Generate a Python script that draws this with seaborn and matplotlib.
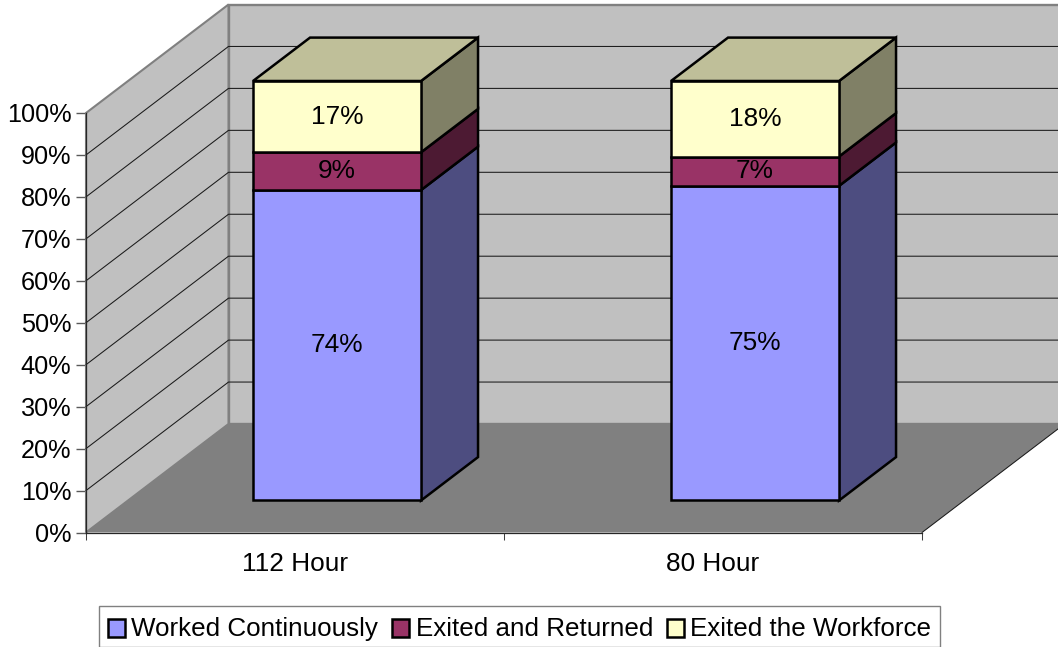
import matplotlib
matplotlib.use("Agg")
import matplotlib.pyplot as plt
from matplotlib.patches import Polygon
from matplotlib.transforms import Affine2D
import pandas as pd
import seaborn as sns

# Chart values
cohorts = ["112 Hour", "80 Hour"]
worked_continuously = [74, 75]
exited_and_returned = [9, 7]
exited_workforce = [17, 18]
series_names = ["Worked Continuously", "Exited and Returned", "Exited the Workforce"]
series_values = [worked_continuously, exited_and_returned, exited_workforce]

# Face colours for each series: front, side, top
front_colors = ["#9999FF", "#993366", "#FFFFCC"]
side_colors = ["#4D4D80", "#4D1A33", "#808066"]
top_color = "#BFBF99"

W, H = 1058, 647
sns.set_theme(style="white")
plt.rcParams["font.family"] = ["Liberation Sans", "DejaVu Sans"]
plt.rcParams["text.color"] = "black"
FONT = 18.9
TICK_FONT = 18.2
LEGEND_FONT = 18.7

fig = plt.figure(figsize=(W / 100, H / 100), dpi=100, facecolor="white")
ax = fig.add_axes([86 / W, 1 - 532.5 / H, (922 - 86) / W, (532.5 - 113) / H])
ax.patch.set_alpha(0)

# Oblique projection of the chart box: depth 0 is the front plane, 1 the back wall
DX = 142.5 / 418
DY = 108.5 / 4.195


def project(x, y, d):
    return x + d * DX, y + d * DY


XL, XR = -0.5, 1.5
BAR_WIDTH = 168 / 418
D_FRONT, D_BACK = 0.295, 0.695
EDGE_LW = 1.8


def add_face(points, color, z, edge="none", lw=0):
    ax.add_patch(Polygon(points, closed=True, facecolor=color, edgecolor=edge,
                         linewidth=lw, zorder=z, clip_on=False, joinstyle="miter"))


# Walls and floor
add_face([project(XL, 0, 1), project(XR, 0, 1), project(XR, 100, 1), project(XL, 100, 1)],
         "#C0C0C0", 1, "#808080", 1.7)
add_face([project(XL, 0, 0), project(XL, 0, 1), project(XL, 100, 1), project(XL, 100, 0)],
         "#C0C0C0", 1, "#808080", 1.5)
add_face([project(XL, 0, 0), project(XR, 0, 0), project(XR, 0, 1), project(XL, 0, 1)],
         "#808080", 1.5)

# Gridlines along the left wall and back wall
for level in range(10, 100, 10):
    xs, ys = zip(project(XL, level, 0), project(XL, level, 1), project(XR, level, 1))
    ax.plot(xs, ys, color="#1A1A1A", lw=0.75, zorder=2, clip_on=False)
ax.plot(*zip(project(XR, 0, 0), project(XR, 0, 1)), color="#1A1A1A", lw=0.75, zorder=2,
        clip_on=False)

# Stacked bars: the front faces come from seaborn, shifted into the box depth
table = pd.DataFrame({"cohort": cohorts})
shift = Affine2D().translate(*[D_FRONT * DX, D_FRONT * DY])
bottoms = [0, 0]
for name, values, front, side in zip(series_names, series_values, front_colors, side_colors):
    table["value"] = values
    sns.barplot(data=table, x="cohort", y="value", bottom=bottoms, width=BAR_WIDTH, ax=ax,
                color=front, saturation=1, edgecolor="black", linewidth=EDGE_LW,
                label=name, zorder=4)
    for patch, cx, base, val in zip(ax.containers[-1], range(2), bottoms, values):
        patch.set_transform(shift + ax.transData)
        patch.set_clip_on(False)
        patch.set_joinstyle("miter")
        x1 = cx + BAR_WIDTH / 2
        add_face([project(x1, base, D_FRONT), project(x1, base + val, D_FRONT),
                  project(x1, base + val, D_BACK), project(x1, base, D_BACK)],
                 side, 3, "black", EDGE_LW)
        ax.text(cx, base + val / 2, f"{val}%", transform=shift + ax.transData, ha="center",
                va="center", fontsize=FONT, color="black", zorder=6)
    bottoms = [b + v for b, v in zip(bottoms, values)]

# Bar tops
for cx, total in zip(range(2), bottoms):
    x0, x1 = cx - BAR_WIDTH / 2, cx + BAR_WIDTH / 2
    add_face([project(x0, total, D_FRONT), project(x1, total, D_FRONT),
              project(x1, total, D_BACK), project(x0, total, D_BACK)],
             top_color, 5, "black", EDGE_LW)

# Axes
ax.set_xlim(XL, XR)
ax.set_ylim(0, 100)
ax.set_xlabel("")
ax.set_ylabel("")
ax.set_yticks(range(0, 101, 10), [f"{v}%" for v in range(0, 101, 10)])
ax.set_xticks([-0.5, 0.5, 1.5], ["", "", ""])
ax.set_xticks([0, 1], cohorts, minor=True)
ax.tick_params(axis="y", which="major", left=True, length=7.5, width=1, color="#595959",
               labelsize=TICK_FONT, labelcolor="black", pad=3)
ax.tick_params(axis="x", which="major", bottom=True, length=5, width=0.75, color="#404040")
ax.tick_params(axis="x", which="minor", bottom=False, length=0, labelsize=FONT,
               labelcolor="black", pad=14)
for side in ("top", "right"):
    ax.spines[side].set_visible(False)
for side in ("left", "bottom"):
    ax.spines[side].set_color("#262626")
    ax.spines[side].set_linewidth(0.9)
    ax.spines[side].set_zorder(2.5)
    ax.spines[side].set_visible(True)

# Legend
leg = ax.legend(loc="center", bbox_to_anchor=(519.5 / W, 1 - 626.5 / H), bbox_transform=fig.transFigure,
                ncols=3, fontsize=LEGEND_FONT, frameon=True, fancybox=False, framealpha=1,
                edgecolor="#808080", labelcolor="black", handlelength=0.66, handleheight=0.66,
                handletextpad=0.25, columnspacing=0.53, borderpad=0.34, borderaxespad=0)
leg.get_frame().set_linewidth(1)
for handle in leg.legend_handles:
    handle.set_edgecolor("black")
    handle.set_linewidth(EDGE_LW)
    handle.set_y(handle.get_y() - 2.5)
for label in leg.get_texts():
    label.set_y(-2.5)

fig.savefig("out.png", dpi=100)
